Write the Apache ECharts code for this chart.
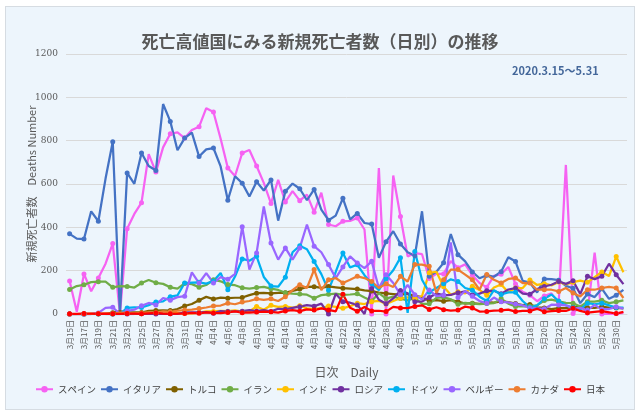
<!DOCTYPE html>
<html><head><meta charset="utf-8">
<script src="https://cdn.jsdelivr.net/npm/echarts@6/dist/echarts.min.js"></script>
<style>
html,body{margin:0;padding:0;background:#fff;}
#box{position:absolute;left:5px;top:6px;width:628px;height:402px;background:#EDF5FC;border:1px solid #D6DCE2;}
#chart{position:absolute;left:0;top:0;width:640px;height:416px;}
</style></head><body><div id="box"></div><div id="chart"></div>
<script>
const dates = ['3月15日','3月16日','3月17日','3月18日','3月19日','3月20日','3月21日','3月22日','3月23日','3月24日','3月25日','3月26日','3月27日','3月28日','3月29日','3月30日','3月31日',
'4月1日','4月2日','4月3日','4月4日','4月5日','4月6日','4月7日','4月8日','4月9日','4月10日','4月11日','4月12日','4月13日','4月14日','4月15日','4月16日','4月17日','4月18日','4月19日','4月20日','4月21日','4月22日','4月23日','4月24日','4月25日','4月26日','4月27日','4月28日','4月29日','4月30日',
'5月1日','5月2日','5月3日','5月4日','5月5日','5月6日','5月7日','5月8日','5月9日','5月10日','5月11日','5月12日','5月13日','5月14日','5月15日','5月16日','5月17日','5月18日','5月19日','5月20日','5月21日','5月22日','5月23日','5月24日','5月25日','5月26日','5月27日','5月28日','5月29日','5月30日','5月31日'];

const spain = [152,10,185,105,166,232,325,0,394,462,514,738,655,769,832,838,812,
849,864,950,932,809,674,637,743,757,683,605,510,619,517,567,523,551,470,560,413,405,428,430,443,390,0,674,0,639,450,
266,281,276,164,185,185,244,213,229,179,143,123,176,184,217,138,102,87,59,83,95,50,688,2,40,5,283,0,1,2,5];
const italy = [370,348,346,474,428,625,795,0,651,601,743,683,662,969,889,756,812,
837,727,760,766,681,525,636,604,542,610,570,619,431,566,602,578,525,575,482,433,454,534,437,464,420,415,260,333,382,323,
285,269,474,174,195,236,369,274,243,194,165,179,172,195,262,242,153,145,99,162,161,156,130,119,50,92,78,117,70,87,111];
const turkey = [0,0,0,1,1,1,6,12,9,7,7,15,16,17,16,23,37,
46,63,79,69,76,73,75,76,87,96,98,95,97,98,107,115,125,126,121,127,123,119,117,115,109,106,99,95,92,89,
93,84,78,61,64,59,64,57,48,50,47,55,53,58,55,48,41,44,31,28,23,27,27,32,32,29,28,34,30,28,26];
const iran = [113,129,135,147,149,149,123,129,127,122,143,157,144,139,123,117,141,
138,124,134,158,151,136,133,121,117,122,125,117,111,98,94,92,89,73,87,91,94,88,90,93,76,60,96,71,80,71,
63,74,47,47,74,78,68,45,51,48,45,48,50,71,48,35,35,35,40,62,66,58,51,50,34,57,57,63,50,56,63];
const india = [0,0,0,1,0,1,0,1,2,1,1,4,3,1,6,5,3,
3,6,12,12,15,13,17,11,12,35,20,40,33,35,29,38,26,23,27,37,33,26,36,50,46,57,61,46,60,73,
77,72,83,190,195,126,89,103,95,128,111,87,122,136,100,120,120,157,134,140,132,148,137,147,154,146,170,194,175,265,193];
const russia = [0,0,0,0,1,0,0,0,0,0,1,1,0,1,1,0,8,
7,7,9,4,13,11,12,13,18,13,18,12,24,22,28,34,41,36,48,0,93,57,52,42,0,118,66,47,72,108,
96,57,58,76,95,86,88,98,104,88,94,107,107,93,113,119,94,91,115,127,135,150,139,153,92,174,161,174,232,181,138];
const germany = [0,0,0,0,0,0,0,0,28,31,30,41,55,58,80,86,143,
145,146,140,152,189,112,173,254,246,266,171,129,126,170,285,315,299,242,184,110,194,281,215,227,179,140,110,163,202,260,
5,289,158,100,120,140,160,150,120,110,80,60,110,90,100,100,60,30,40,70,90,60,40,30,20,50,45,50,40,30,30];
const belgium = [0,0,0,0,5,28,31,0,14,20,38,51,42,74,64,78,82,
192,143,189,143,170,160,185,403,205,282,496,328,251,305,251,305,413,313,285,228,166,217,266,235,212,243,120,181,143,89,
134,89,66,111,82,87,330,76,106,82,60,50,76,56,54,46,40,28,26,24,43,42,40,25,28,18,42,22,23,33,25];
const canada = [0,0,1,0,2,2,1,6,4,3,5,8,6,12,10,15,18,
20,25,30,37,39,50,45,55,60,70,65,70,60,80,110,135,120,205,110,158,166,143,158,174,166,150,120,140,125,174,
150,228,228,220,97,158,205,205,182,158,112,182,158,143,162,166,143,143,112,112,112,104,120,97,81,112,112,120,125,120,74];
const japan = [1,1,2,2,1,2,1,1,2,2,1,3,5,2,1,2,2,
5,3,7,5,4,7,12,6,6,9,11,10,6,14,18,13,21,18,26,19,12,91,29,13,32,14,15,11,33,28,
27,35,40,21,31,20,16,18,34,28,11,12,16,17,20,11,14,14,24,10,13,16,14,26,14,6,10,13,8,2,10];

const seriesDefs = [
  ['スペイン', spain, '#F662F2'],
  ['イタリア', italy, '#4472C4'],
  ['トルコ', turkey, '#7F6000'],
  ['イラン', iran, '#70AD47'],
  ['インド', india, '#FFC000'],
  ['ロシア', russia, '#7030A0'],
  ['ドイツ', germany, '#00B0F0'],
  ['ベルギー', belgium, '#9966FF'],
  ['カナダ', canada, '#ED7D31'],
  ['日本', japan, '#FF0000']
];

const chart = echarts.init(document.getElementById('chart'), null, {renderer:'canvas'});
const font = '"Noto Sans CJK JP", "Noto Sans", sans-serif';
chart.setOption({
  animation: false,
  backgroundColor: 'transparent',
  textStyle: {fontFamily: font},
  title: {
    text: '死亡高値国にみる新規死亡者数（日別）の推移',
    left: 'center', top: 28,
    textStyle: {fontSize: 17, fontWeight: 'bold', color: '#595959', fontFamily: font}
  },
  graphic: [{
    type: 'text', left: 512, top: 65,
    style: {text: '2020.3.15～5.31', font: 'bold 11px ' + font, fill: '#44679A'}
  }],
  legend: {
    bottom: 22, left: 'center', padding: 0,
    itemWidth: 17, itemHeight: 8, itemGap: 4,
    textStyle: {fontSize: 9.5, color: '#404040', fontFamily: font},
    data: seriesDefs.map(d => d[0])
  },
  grid: {left: 66, right: 13, top: 54, bottom: 102},
  xAxis: {
    type: 'category', data: dates, boundaryGap: true,
    axisTick: {show: false},
    axisLine: {lineStyle: {color: '#D9D9D9'}},
    axisLabel: {rotate: 90, interval: 1, fontSize: 8, color: '#595959', margin: 6},
    name: '日次　Daily', nameLocation: 'middle', nameGap: 52, nameMoveOverlap: false,
    nameTextStyle: {fontSize: 12, color: '#595959'}
  },
  yAxis: {
    type: 'value', min: 0, max: 1200, interval: 200,
    axisLine: {show: false}, axisTick: {show: false},
    axisLabel: {fontSize: 9, color: '#595959', margin: 8, fontFamily: 'DejaVu Serif', formatter: v => String(v)},
    splitLine: {lineStyle: {color: '#D9D9D9'}},
    name: '新規死亡者数　Deaths Number', nameLocation: 'middle', nameGap: 29, nameMoveOverlap: false,
    nameTextStyle: {fontSize: 11, color: '#595959'}
  },
  series: seriesDefs.map(d => ({
    name: d[0], type: 'line', data: d[1],
    symbol: 'circle', symbolSize: 5, showSymbol: true,
    lineStyle: {width: 2.25, color: d[2]},
    itemStyle: {color: d[2]},
    emphasis: {disabled: true}
  }))
});
</script></body></html>
